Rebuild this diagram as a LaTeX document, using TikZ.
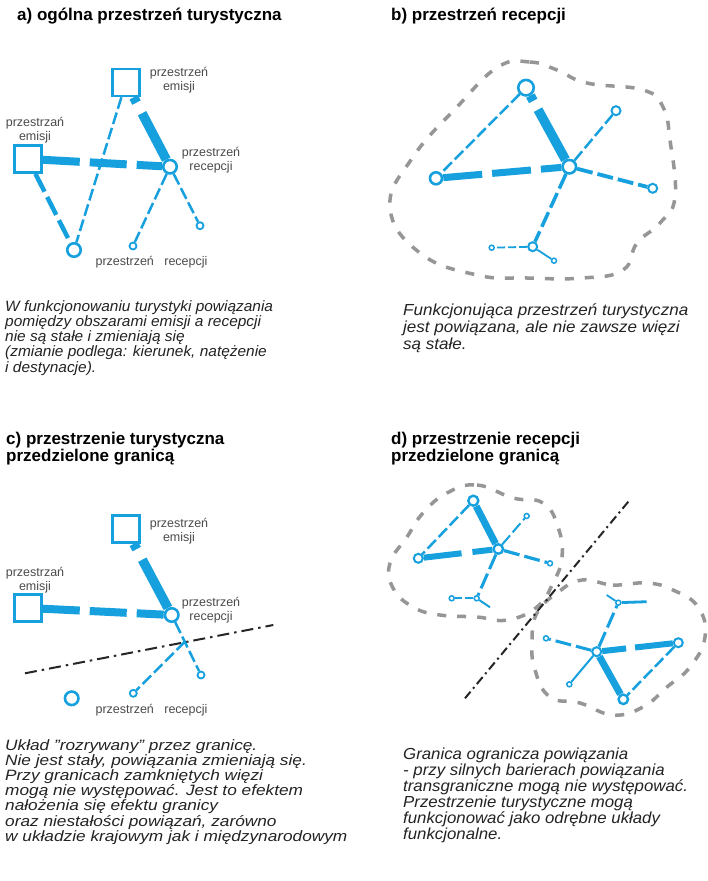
\documentclass[tikz,border=0pt]{standalone}
\usepackage{fontspec}
\setmainfont{Liberation Sans}
\usetikzlibrary{positioning}

\definecolor{linkblue}{RGB}{22,160,222}
\definecolor{zonegray}{RGB}{150,150,150}
\definecolor{bodytext}{RGB}{35,35,35}
\definecolor{labeltext}{RGB}{75,75,75}

\newcommand{\bodyfont}[3]{\fontsize{#1}{#2}\selectfont\itshape\addfontfeatures{FakeStretch=#3}}

\tikzset{
  emis/.style={rectangle, draw=linkblue, fill=white, line width=2.6pt, minimum size=27pt, inner sep=0pt},
  recbig/.style={circle, draw=linkblue, fill=white, line width=2.6pt, minimum size=13.5pt, inner sep=0pt},
  recmid/.style={circle, draw=linkblue, fill=white, line width=2pt, minimum size=9pt, inner sep=0pt},
  recsm/.style={circle, draw=linkblue, fill=white, line width=1.8pt, minimum size=7pt, inner sep=0pt},
  rectiny/.style={circle, draw=linkblue, fill=white, line width=1.5pt, minimum size=5pt, inner sep=0pt},
  heavyln/.style={draw=linkblue, line width=9.5pt},
  thickdash/.style={draw=linkblue, line width=8pt, dash pattern=on 37pt off 10pt},
  middash/.style={draw=linkblue, line width=4pt, dash pattern=on 16pt off 5pt},
  thindash/.style={draw=linkblue, line width=2.5pt, dash pattern=on 12pt off 4pt},
  border/.style={draw=black!85, line width=2pt, dash pattern=on 12pt off 5pt on 2.5pt off 5pt},
  zone/.style={draw=zonegray, line width=3.5pt, dash pattern=on 9pt off 11pt},
  title/.style={font=\fontsize{17}{17}\selectfont\bfseries, text=black, align=left, inner sep=0pt},
  body/.style={text=bodytext, align=left, anchor=north west, inner sep=0pt},
  lbl/.style={font=\fontsize{12.5}{14.5}\selectfont, text=labeltext, align=center, inner sep=0pt}
}

\begin{document}
\begin{tikzpicture}[x=1pt, y=-1pt]

\useasboundingbox[fill=white] (0,0) rectangle (708,881);

% TITLES
\node[title, anchor=base west] (titA) at (17,20) {a) ogólna przestrzeń turystyczna};
\node[title, anchor=base west] (titB) at (391,20) {b) przestrzeń recepcji};
\node[title, anchor=north west] (titC) at (6,432) {c) przestrzenie turystyczna\\przedzielone granicą};
\node[title, anchor=north west] (titD) at (391,432) {d) przestrzenie recepcji\\przedzielone granicą};

% PANEL A - NODES
\node[emis] (emA1) at (126,82.5) {};
\node[emis] (emA2) at (28,159) {};
\node[recbig] (recA) at (170,166.7) {};
\node[recbig] (outA) at (74,250) {};
\node[recsm] (smA1) at (133,246) {};
\node[recsm] (smA2) at (200,225.7) {};

% PANEL A - LINKS
\draw[thickdash] (emA2) -- (recA);
\draw[heavyln, dash pattern=on 6pt off 12pt on 200pt] (emA1) -- (recA);
\draw[thindash] (emA1) -- (outA);
\draw[middash, line width=4.5pt, dash pattern=on 20pt off 6pt] (emA2) -- (outA);
\draw[thindash] (recA) -- (smA1);
\draw[thindash] (recA) -- (smA2);

% PANEL A - LABELS
\node[lbl] (lbA1) at (179,80) {przestrzeń\\emisji};
\node[lbl] (lbA2) at (35,130) {przestrzań\\emisji};
\node[lbl] (lbA3) at (211,160) {przestrzeń\\recepcji};
\node[lbl] (lbA4) at (151.5,262) {przestrzeń\hspace{7pt} recepcji};

% PANEL B - ZONE
\draw[zone] plot[smooth cycle, tension=0.75] coordinates {(498,67) (530,62) (557,70) (587,83) (643,90) (663,107) (670,140) (675,197) (660,223) (637,243) (623,270) (583,278) (527,278) (477,275) (420,253) (390,207) (413,157) (457,107)};

% PANEL B - NODES
\node[recbig, minimum size=15.5pt] (topB) at (526,87.7) {};
\node[recbig, minimum size=12pt] (leftB) at (436,178.3) {};
\node[recbig] (recB) at (569.3,166.7) {};
\node[recmid] (smB1) at (616,110.7) {};
\node[recmid] (smB2) at (652.7,188.3) {};
\node[recmid] (nodeB) at (532.7,246.7) {};
\node[rectiny] (tinyB1) at (491.7,247.7) {};
\node[rectiny] (tinyB2) at (554,260.7) {};

% PANEL B - LINKS
\draw[thindash] (topB) -- (leftB);
\draw[heavyln, dash pattern=on 6pt off 10pt on 200pt] (topB) -- (recB);
\draw[thickdash, line width=7pt, dash pattern=on 39pt off 10pt] (leftB) -- (recB);
\draw[thindash] (recB) -- (smB1);
\draw[middash, line width=3.8pt] (recB) -- (smB2);
\draw[middash, line width=3.5pt] (recB) -- (nodeB);
\draw[thindash, line width=1.8pt, dash pattern=on 8pt off 3pt] (nodeB) -- (tinyB1);
\draw[linkblue, line width=1.8pt] (nodeB) -- (tinyB2);

% PANEL A - TEXT
\node[body, font=\bodyfont{15}{15.3}{1.03}] (txtA) at (5,300) {W funkcjonowaniu turystyki powiązania\\pomiędzy obszarami emisji a recepcji\\nie są stałe i zmieniają się\\(zmianie podlega: kierunek, natężenie\\i destynacje).};

% PANEL B - TEXT
\node[body, font=\bodyfont{16}{17}{1.065}] (txtB) at (403,304) {Funkcjonująca przestrzeń turystyczna\\jest powiązana, ale nie zawsze więzi\\są stałe.};

% PANEL C - NODES
\node[emis] (emC1) at (126,529) {};
\node[emis] (emC2) at (28,608) {};
\node[recbig] (recC) at (171.7,615) {};
\node[recbig] (outC) at (71.7,698.3) {};
\node[recsm] (smC1) at (133.3,693.3) {};
\node[recsm] (smC2) at (201,675) {};
\coordinate (bC1) at (25,673.3);
\coordinate (bC2) at (273.3,625);
\coordinate (crossC) at (185,641.5);

% PANEL C - LINKS
\draw[border] (bC1) -- (bC2);
\draw[thickdash] (emC2) -- (recC);
\draw[heavyln, dash pattern=on 6pt off 12pt on 200pt] (emC1) -- (recC);
\draw[thindash] (recC) -- (smC2);
\draw[thindash] (crossC) -- (smC1);

% PANEL C - LABELS
\node[lbl] (lbC1) at (179,531) {przestrzeń\\emisji};
\node[lbl] (lbC2) at (35,580) {przestrzań\\emisji};
\node[lbl] (lbC3) at (211,610) {przestrzeń\\recepcji};
\node[lbl] (lbC4) at (151.5,710) {przestrzeń\hspace{7pt} recepcji};

% PANEL D - ZONES
\draw[zone] plot[smooth cycle, tension=0.75] coordinates {(447,493) (477,485) (513,498) (543,503) (558,527) (562,557) (553,583) (537,607) (507,620) (477,617) (440,615) (413,607) (393,588) (390,563) (407,537) (423,513)};
\draw[zone] plot[smooth cycle, tension=0.75] coordinates {(582,580) (613,585) (647,583) (673,590) (698,607) (705,637) (690,667) (667,687) (643,707) (613,715) (580,703) (550,697) (535,670) (532,640) (537,613) (557,593)};

% PANEL D - BORDER
\coordinate (bD1) at (628.3,501.7);
\coordinate (bD2) at (465,698.3);
\draw[border, dash pattern=on 9pt off 4pt on 2pt off 4pt] (bD1) -- (bD2);

% PANEL D - NODES (UPPER)
\node[recmid, line width=2.4pt, minimum size=10pt] (topD1) at (473.3,500.7) {};
\node[recmid] (leftD1) at (418.3,558.3) {};
\node[recmid, line width=2.4pt, minimum size=9.5pt] (recD1) at (498.3,549) {};
\node[rectiny] (smD1a) at (526.7,516) {};
\node[rectiny] (smD1b) at (550,563.3) {};
\node[rectiny] (nodeD1) at (476.7,598.3) {};
\node[rectiny] (tinyD1) at (451.7,598.3) {};
\coordinate (endD1) at (490,607.3);

% PANEL D - LINKS (UPPER)
\draw[thindash] (topD1) -- (leftD1);
\draw[heavyln, line width=7pt] (topD1) -- (recD1);
\draw[thickdash, line width=6pt, dash pattern=on 38pt off 11pt] (leftD1) -- (recD1);
\draw[thindash, line width=2pt] (recD1) -- (smD1a);
\draw[middash, line width=3.2pt] (recD1) -- (smD1b);
\draw[middash, line width=3pt] (recD1) -- (nodeD1);
\draw[thindash, line width=1.7pt, dash pattern=on 8pt off 3pt] (nodeD1) -- (tinyD1);
\draw[linkblue, line width=2pt] (nodeD1) -- (endD1);

% PANEL D - NODES (LOWER)
\node[recmid] (recD2) at (596.7,651.7) {};
\node[recmid] (rightD2) at (678.3,642.7) {};
\node[recmid, line width=2.4pt, minimum size=9.5pt] (botD2) at (623.3,699.3) {};
\node[rectiny] (smD2a) at (546,638.3) {};
\node[rectiny] (smD2b) at (569.3,684.3) {};
\node[rectiny] (nodeD2) at (618.3,602.7) {};
\coordinate (endD2a) at (606.7,595);
\coordinate (endD2b) at (646.7,601.7);

% PANEL D - LINKS (LOWER)
\draw[thickdash, line width=6pt, dash pattern=on 38pt off 9pt] (rightD2) -- (recD2);
\draw[heavyln, line width=7pt] (recD2) -- (botD2);
\draw[thindash] (rightD2) -- (botD2);
\draw[middash, line width=3pt] (recD2) -- (smD2a);
\draw[linkblue, line width=2pt] (recD2) -- (smD2b);
\draw[middash, line width=3pt] (recD2) -- (nodeD2);
\draw[linkblue, line width=1.8pt] (nodeD2) -- (endD2a);
\draw[linkblue, line width=2.8pt] (nodeD2) -- (endD2b);

% PANEL C - TEXT
\node[body, font=\bodyfont{15}{15.2}{1.15}] (txtC) at (5,739) {Układ "rozrywany" przez granicę.\\Nie jest stały, powiązania zmieniają się.\\Przy granicach zamkniętych więzi\\mogą nie występować. Jest to efektem\\nałożenia się efektu granicy\\oraz niestałości powiązań, zarówno\\w układzie krajowym jak i międzynarodowym};

% PANEL D - TEXT
\node[body, font=\bodyfont{16}{16}{1.05}] (txtD) at (403,748) {Granica ogranicza powiązania\\- przy silnych barierach powiązania\\transgraniczne mogą nie występować.\\Przestrzenie turystyczne mogą\\funkcjonować jako odrębne układy\\funkcjonalne.};

\end{tikzpicture}
\end{document}
